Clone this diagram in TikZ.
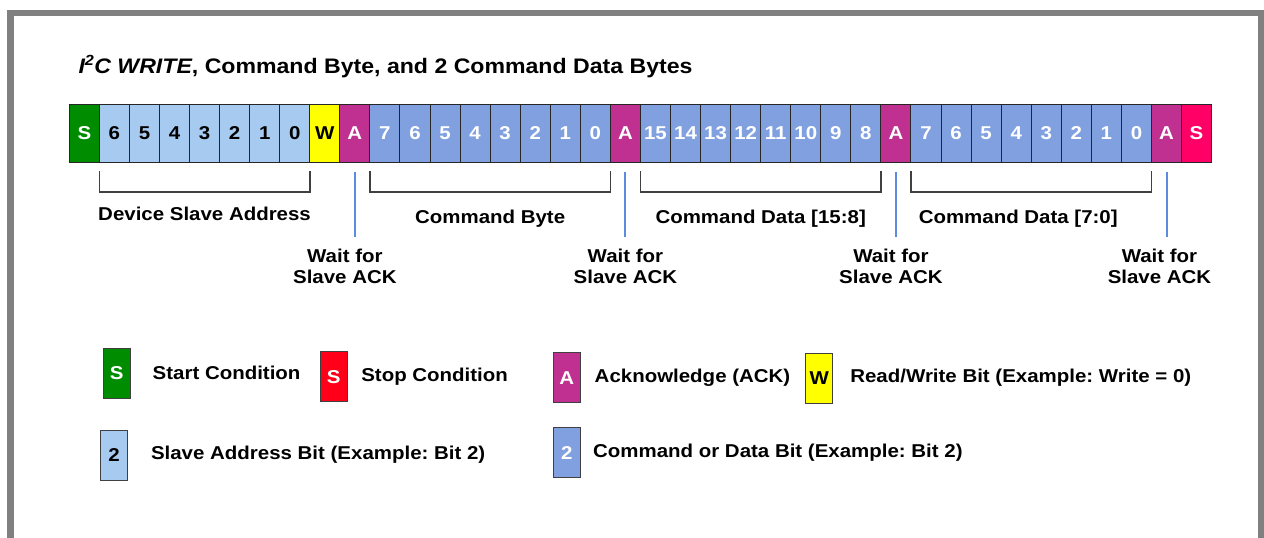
\documentclass[tikz,border=0pt]{standalone}
\usepackage{fontspec}
\setmainfont{Liberation Sans}[FakeStretch=1.1]
\usetikzlibrary{positioning,calc}
\definecolor{startGreen}{RGB}{0,140,0}
\definecolor{addrBlue}{RGB}{166,202,240}
\definecolor{rwYellow}{RGB}{255,255,0}
\definecolor{ackMagenta}{RGB}{191,48,144}
\definecolor{dataBlue}{RGB}{128,160,224}
\definecolor{stopPink}{RGB}{255,0,102}
\definecolor{stopRed}{RGB}{255,0,24}
\definecolor{waitBlue}{RGB}{91,140,224}
\definecolor{bracketGray}{RGB}{64,64,64}
\definecolor{frameGray}{RGB}{128,128,128}
\newcommand{\bitfont}{\fontsize{18.6}{21.5}\selectfont\bfseries}
\newcommand{\titlefont}{\fontsize{21}{24}\selectfont\bfseries}
\frenchspacing
\begin{document}
\begin{tikzpicture}[x=1pt, y=1pt, node distance=0pt]
	%defines
	\tikzstyle{bit} = [rectangle, draw=black!85, line width=1pt, minimum width=30.06pt, minimum height=58pt, inner sep=0pt, outer sep=0pt, text centered, font=\bitfont]
	\tikzstyle{startBox} = [bit, fill=startGreen, text=white]
	\tikzstyle{addrBox} = [bit, fill=addrBlue, text=black]
	\tikzstyle{rwBox} = [bit, fill=rwYellow, text=black]
	\tikzstyle{ackBox} = [bit, fill=ackMagenta, text=white]
	\tikzstyle{dataBox} = [bit, fill=dataBlue, text=white]
	\tikzstyle{stopBox} = [bit, fill=stopPink, text=white]
	\tikzstyle{legendBox} = [minimum width=27pt, minimum height=50pt, draw=black!75]
	\tikzstyle{legendText} = [font=\bitfont, text=black]
	\tikzstyle{groupText} = [font=\bitfont, text=black]
	\tikzstyle{waitText} = [font=\bitfont, text=black, align=center]
	\tikzstyle{bracket} = [draw=bracketGray, line width=1.5pt]
	\tikzstyle{waitLine} = [draw=waitBlue, line width=2pt]
	\tikzstyle{frame} = [draw=frameGray, line width=6.5pt]
	%page
	\clip (0,0) rectangle (1264,-538);
	\useasboundingbox (0,0) rectangle (1264,-538);
	\draw [frame] (10.5,-560) -- (10.5,-13) -- (1261.5,-13) -- (1261.5,-560);
	\node (title) [anchor=base west, inner sep=0pt, font=\titlefont] at (78.3,-73) {\textit{I\textsuperscript{2}C WRITE}, Command Byte, and 2 Command Data Bytes};
	%bit row
	\node (startBit) [startBox] at (84.33,-133) {S};
	\node (addr6) [addrBox, right=of startBit] {6};
	\node (addr5) [addrBox, right=of addr6] {5};
	\node (addr4) [addrBox, right=of addr5] {4};
	\node (addr3) [addrBox, right=of addr4] {3};
	\node (addr2) [addrBox, right=of addr3] {2};
	\node (addr1) [addrBox, right=of addr2] {1};
	\node (addr0) [addrBox, right=of addr1] {0};
	\node (writeBit) [rwBox, right=of addr0] {W};
	\node (ackA) [ackBox, right=of writeBit] {A};
	\node (cmd7) [dataBox, right=of ackA] {7};
	\node (cmd6) [dataBox, right=of cmd7] {6};
	\node (cmd5) [dataBox, right=of cmd6] {5};
	\node (cmd4) [dataBox, right=of cmd5] {4};
	\node (cmd3) [dataBox, right=of cmd4] {3};
	\node (cmd2) [dataBox, right=of cmd3] {2};
	\node (cmd1) [dataBox, right=of cmd2] {1};
	\node (cmd0) [dataBox, right=of cmd1] {0};
	\node (ackB) [ackBox, right=of cmd0] {A};
	\node (dataHi15) [dataBox, right=of ackB] {15};
	\node (dataHi14) [dataBox, right=of dataHi15] {14};
	\node (dataHi13) [dataBox, right=of dataHi14] {13};
	\node (dataHi12) [dataBox, right=of dataHi13] {12};
	\node (dataHi11) [dataBox, right=of dataHi12] {11};
	\node (dataHi10) [dataBox, right=of dataHi11] {10};
	\node (dataHi9) [dataBox, right=of dataHi10] {9};
	\node (dataHi8) [dataBox, right=of dataHi9] {8};
	\node (ackC) [ackBox, right=of dataHi8] {A};
	\node (dataLo7) [dataBox, right=of ackC] {7};
	\node (dataLo6) [dataBox, right=of dataLo7] {6};
	\node (dataLo5) [dataBox, right=of dataLo6] {5};
	\node (dataLo4) [dataBox, right=of dataLo5] {4};
	\node (dataLo3) [dataBox, right=of dataLo4] {3};
	\node (dataLo2) [dataBox, right=of dataLo3] {2};
	\node (dataLo1) [dataBox, right=of dataLo2] {1};
	\node (dataLo0) [dataBox, right=of dataLo1] {0};
	\node (ackD) [ackBox, right=of dataLo0] {A};
	\node (stopBit) [stopBox, right=of ackD] {S};
	%brackets
	\draw [bracket] ([yshift=-9pt]addr6.south west) -- ([yshift=-30pt]addr6.south west) -- ([yshift=-30pt]addr0.south east) node [groupText, midway, below=11pt] {Device Slave Address} -- ([yshift=-9pt]addr0.south east);
	\draw [bracket] ([yshift=-9pt]cmd7.south west) -- ([yshift=-30pt]cmd7.south west) -- ([yshift=-30pt]cmd0.south east) node [groupText, midway, below=14pt] {Command Byte} -- ([yshift=-9pt]cmd0.south east);
	\draw [bracket] ([yshift=-9pt]dataHi15.south west) -- ([yshift=-30pt]dataHi15.south west) -- ([yshift=-30pt]dataHi8.south east) node [groupText, midway, below=14pt] {Command Data [15:8]} -- ([yshift=-9pt]dataHi8.south east);
	\draw [bracket] ([yshift=-9pt]dataLo7.south west) -- ([yshift=-30pt]dataLo7.south west) -- ([yshift=-30pt]dataLo0.south east) node [groupText, midway, below=14pt, xshift=-13pt] {Command Data [7:0]} -- ([yshift=-9pt]dataLo0.south east);
	%wait for ack
	\draw [waitLine] ([yshift=-10pt]ackA.south) -- ++(0,-65) coordinate (waitA);
	\draw [waitLine] ([yshift=-10pt]ackB.south) -- ++(0,-65) coordinate (waitB);
	\draw [waitLine] ([yshift=-10pt]ackC.south) -- ++(0,-65) coordinate (waitC);
	\draw [waitLine] ([yshift=-10pt]ackD.south) -- ++(0,-65) coordinate (waitD);
	\node (waitTextA) [waitText, below=8pt of waitA, xshift=-10pt] {Wait for\\Slave ACK};
	\node (waitTextB) [waitText, below=8pt of waitB] {Wait for\\Slave ACK};
	\node (waitTextC) [waitText, below=8pt of waitC, xshift=-5pt] {Wait for\\Slave ACK};
	\node (waitTextD) [waitText, below=8pt of waitD, xshift=-7pt] {Wait for\\Slave ACK};
	%legend
	\node (legStart) [startBox, legendBox] at (116.7,-373.3) {S};
	\node (legStartText) [legendText, right=19pt of legStart] {Start Condition};
	\node (legStop) [stopBox, legendBox, fill=stopRed] at (333.8,-376.7) {S};
	\node (legStopText) [legendText, right=10.5pt of legStop] {Stop Condition};
	\node (legAck) [ackBox, legendBox] at (566.7,-377.7) {A};
	\node (legAckText) [legendText, right=11pt of legAck] {Acknowledge (ACK)};
	\node (legRw) [rwBox, legendBox] at (819.3,-378) {W};
	\node (legRwText) [legendText, right=14pt of legRw] {Read/Write Bit (Example: Write = 0)};
	\node (legAddr) [addrBox, legendBox] at (114,-455) {2};
	\node (legAddrText) [legendText, right=20pt of legAddr] {Slave Address Bit (Example: Bit 2)};
	\node (legData) [dataBox, legendBox] at (566.7,-452.8) {2};
	\node (legDataText) [legendText, right=9.4pt of legData] {Command or Data Bit (Example: Bit 2)};
\end{tikzpicture}
\end{document}
